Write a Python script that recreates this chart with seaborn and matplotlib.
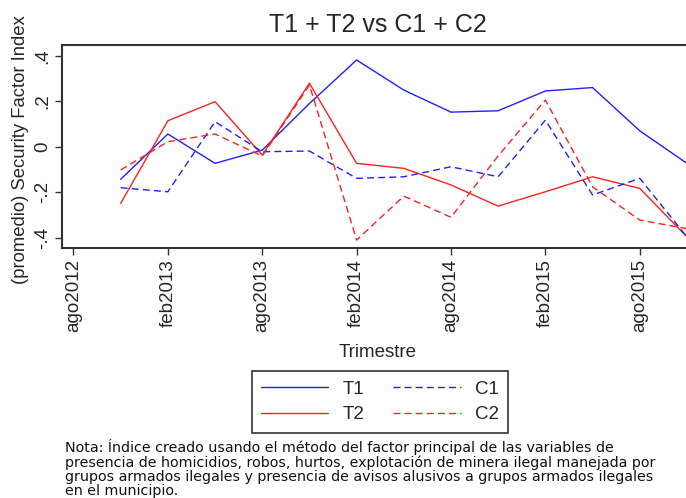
import matplotlib
matplotlib.use("Agg")
import matplotlib.pyplot as plt
import seaborn as sns
import pandas as pd

# months since ago2012 (quarterly observations nov2012 .. nov2015)
mes = [3, 6, 9, 12, 15, 18, 21, 24, 27, 30, 33, 36, 39]
t1 = [-0.143, 0.056, -0.073, -0.015, 0.19, 0.381, 0.249, 0.152, 0.158, 0.245, 0.26, 0.07, -0.073]
t2 = [-0.249, 0.114, 0.198, -0.037, 0.279, -0.073, -0.095, -0.168, -0.261, -0.198, -0.132, -0.183, -0.396]
c1 = [-0.18, -0.198, 0.11, -0.022, -0.019, -0.139, -0.132, -0.088, -0.132, 0.117, -0.212, -0.139, -0.396]
c2 = [-0.102, 0.022, 0.056, -0.041, 0.271, -0.41, -0.217, -0.31, -0.04, 0.205, -0.176, -0.322, -0.36]

tick_pos = [0, 6, 12, 18, 24, 30, 36]
tick_labels = ["ago2012", "feb2013", "ago2013", "feb2014", "ago2014", "feb2015", "ago2015"]
ytick_pos = [-0.4, -0.2, 0, 0.2, 0.4]
ytick_labels = ["-.4", "-.2", "0", ".2", ".4"]

sns.set_theme(style="white")
plt.rcParams["font.family"] = ["Liberation Sans", "DejaVu Sans"]

fig = plt.figure(figsize=(6.86, 4.98), dpi=100)
W, H = 686, 498
left_px, right_px, top_px, bot_px = 62, 694.8, 45, 248
ax = fig.add_axes([left_px / W, 1 - bot_px / H, (right_px - left_px) / W, (bot_px - top_px) / H])

df = pd.DataFrame({"mes": mes, "T1": t1, "T2": t2, "C1": c1, "C2": c2})
styles = {"T1": ("#2020ff", "-"), "C1": ("#2020ff", (0, (5, 3))),
          "T2": ("#ff2020", "-"), "C2": ("#ff2020", (0, (5, 3)))}
handles = {}
for name in ["T1", "T2", "C1", "C2"]:
    col, ls = styles[name]
    sns.lineplot(data=df, x="mes", y=name, ax=ax, color=col, linewidth=1.0,
                 label=name, legend=False, clip_on=False)
    line = ax.get_lines()[-1]
    line.set_linestyle(ls)
    handles[name] = line

ax.set_xlim(-0.73, 39.5)
ax.set_ylim(-0.445, 0.447)
ax.set_xticks(tick_pos)
ax.set_xticklabels(tick_labels, rotation=90, fontsize=13.5)
ax.set_yticks(ytick_pos)
ax.set_yticklabels(ytick_labels, rotation=90, va="center", fontsize=13.5)
ax.tick_params(axis="both", which="both", direction="out", length=5, width=1,
               color="#333333", left=True, bottom=True, pad=3)
ax.set_xlabel("")
ax.set_ylabel("")
for s in ["top", "left", "bottom"]:
    ax.spines[s].set_color("#333333")
    ax.spines[s].set_linewidth(1.5)
ax.spines["right"].set_visible(False)

fig.text(378 / W, 1 - 25 / H, "T1 + T2 vs C1 + C2", ha="center", va="center", fontsize=18)
fig.text(20.5 / W, 1 - 150 / H, "(promedio) Security Factor Index", rotation=90,
         ha="center", va="center", fontsize=13.3)
fig.text(378 / W, 1 - 352 / H, "Trimestre", ha="center", va="center", fontsize=13.5)

leg = fig.legend([handles["T1"], handles["T2"], handles["C1"], handles["C2"]],
                 ["T1", "T2", "C1", "C2"], ncol=2, loc="center",
                 bbox_to_anchor=(380 / W, 1 - 402 / H), fontsize=13.5,
                 frameon=True, fancybox=False, handlelength=3.6, columnspacing=1.55,
                 handletextpad=0.75, borderpad=0.5, labelspacing=0.45)
leg.get_frame().set_edgecolor("black")
leg.get_frame().set_linewidth(1.2)

nota = ("Nota: Índice creado usando el método del factor principal de las variables de\n"
        "presencia de homicidios, robos, hurtos, explotación de minera ilegal manejada por\n"
        "grupos armados ilegales y presencia de avisos alusivos a grupos armados ilegales\n"
        "en el municipio.")
fig.text(65 / W, 1 - 439 / H, nota, ha="left", va="top", fontsize=10.3,
         linespacing=1.0, family="DejaVu Sans", color="#111111")

fig.savefig("out.png", dpi=100, facecolor="white")
